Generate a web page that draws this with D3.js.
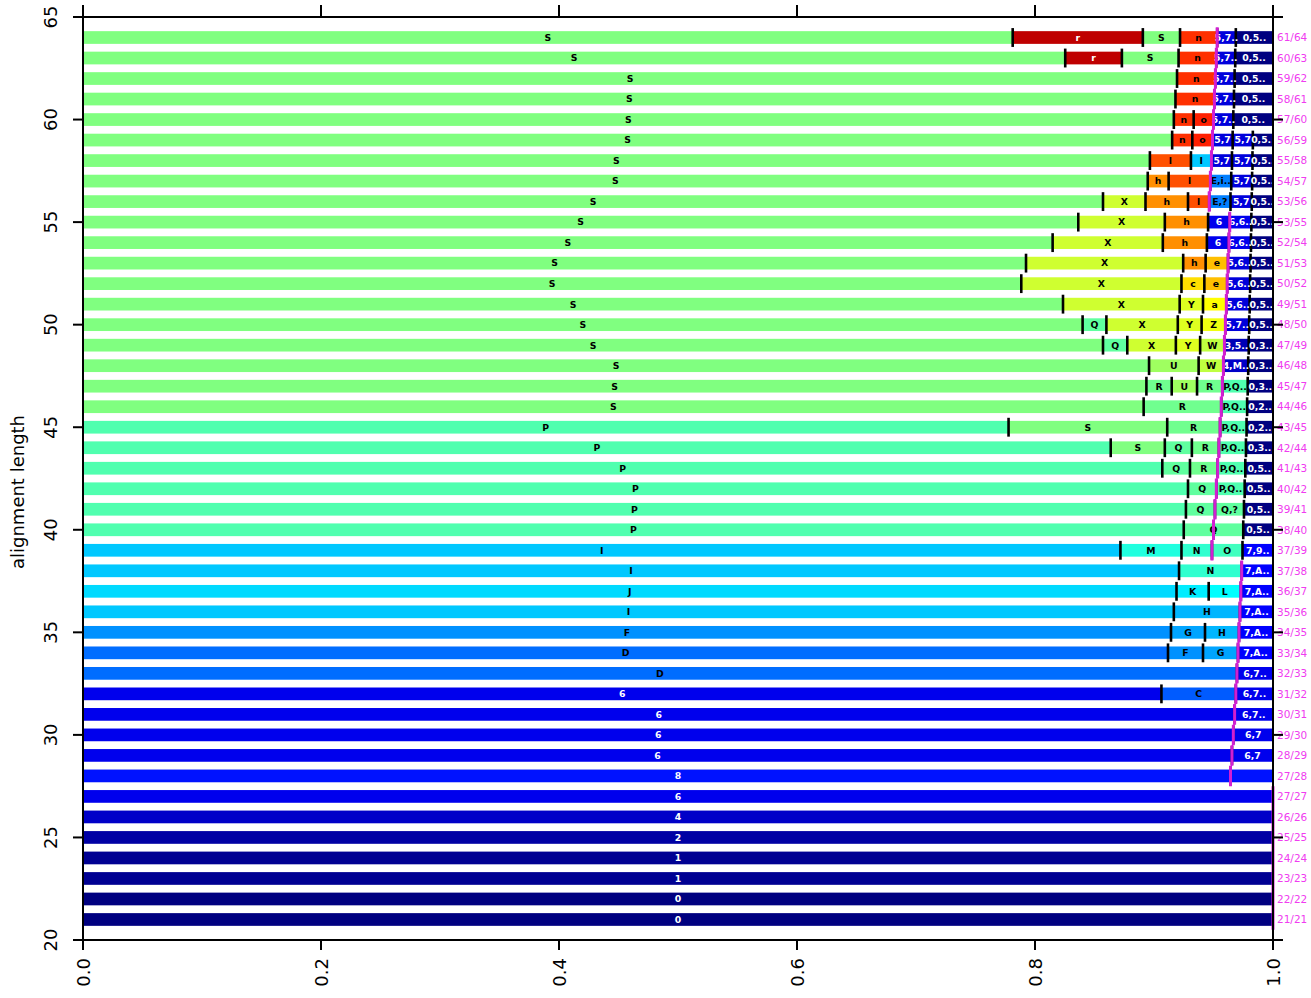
<!DOCTYPE html>
<html><head><meta charset="utf-8">
<script src="https://cdn.jsdelivr.net/npm/d3@7"></script>
<style>body{margin:0;background:#fff}</style>
</head><body>
<svg id="c" width="1311" height="998"></svg>
<script>
const lengths = [64,63,62,61,60,59,58,57,56,55,54,53,52,51,50,49,48,47,46,45,44,43,42,41,40,39,38,37,36,35,34,33,32,31,30,29,28,27,26,25,24,23,22,21];
const kValues = [61,60,59,58,57,56,55,54,53,53,52,51,50,49,48,47,46,45,44,43,42,41,40,39,38,37,37,36,35,34,33,32,31,30,29,28,27,27,26,25,24,23,22,21];
const segLabels = [
 ["S","r","S","n","5,7..","0,5.."],
 ["S","r","S","n","5,7..","0,5.."],
 ["S","n","5,7..","0,5.."],
 ["S","n","5,7..","0,5.."],
 ["S","n","o","5,7..","0,5.."],
 ["S","n","o","5,7","5,7","0,5.."],
 ["S","l","I","5,7","5,7","0,5.."],
 ["S","h","l","E,i..","5,7","0,5.."],
 ["S","X","h","l","E,?","5,7","0,5.."],
 ["S","X","h","6","6,6..","0,5.."],
 ["S","X","h","6","6,6..","0,5.."],
 ["S","X","h","e","5,6..","0,5.."],
 ["S","X","c","e","5,6..","0,5.."],
 ["S","X","Y","a","5,6..","0,5.."],
 ["S","Q","X","Y","Z","5,7..","0,5.."],
 ["S","Q","X","Y","W","3,5..","0,3.."],
 ["S","U","W","4,M..","0,3.."],
 ["S","R","U","R","P,Q..","0,3.."],
 ["S","R","P,Q..","0,2.."],
 ["P","S","R","P,Q..","0,2.."],
 ["P","S","Q","R","P,Q..","0,3.."],
 ["P","Q","R","P,Q..","0,5.."],
 ["P","Q","P,Q..","0,5.."],
 ["P","Q","Q,?","0,5.."],
 ["P","Q","0,5.."],
 ["I","M","N","O","7,9.."],
 ["I","N","7,A.."],
 ["J","K","L","7,A.."],
 ["I","H","7,A.."],
 ["F","G","H","7,A.."],
 ["D","F","G","7,A.."],
 ["D","6,7.."],
 ["6","C","6,7.."],
 ["6","6,7.."],
 ["6","6,7"],
 ["6","6,7"],
 ["8"],["6"],["4"],["2"],["1"],["1"],["0"],["0"]
];
const segCounts = [
 [50,7,2,2,1,2],
 [52,3,3,2,1,2],
 [57,2,1,2],
 [56,2,1,2],
 [55,1,1,1,2],
 [54,1,1,1,1,1],
 [52,2,1,1,1,1],
 [51,1,2,1,1,1],
 [48,2,2,1,1,1,1],
 [46,4,2,1,1,1],
 [44,5,2,1,1,1],
 [42,7,1,1,1,1],
 [41,7,1,1,1,1],
 [42,5,1,1,1,1],
 [42,1,3,1,1,1,1],
 [42,1,2,1,1,1,1],
 [43,2,1,1,1],
 [42,1,1,1,1,1],
 [41,3,1,1],
 [35,6,2,1,1],
 [38,2,1,1,1,1],
 [39,1,1,1,1],
 [39,1,1,1],
 [38,1,1,1],
 [37,2,1],
 [34,2,1,1,1],
 [35,2,1],
 [34,1,1,1],
 [33,2,1],
 [32,1,1,1],
 [31,1,1,1],
 [32,1],
 [29,2,1],
 [30,1],
 [29,1],
 [28,1],
 [28],[27],[26],[25],[24],[23],[22],[21]
];
const xTicks = [0,0.2,0.4,0.6,0.8,1.0];
const yTicks = [20,25,30,35,40,45,50,55,60,65];
// colour of a segment, keyed by the first character of its label
const symbolKeys = ["0","1","2","3","4","5","6","7","8","C","D","E","F","G","H","I","J","K","L","M","N","O","P","Q","R","S","U","W","X","Y","Z","a","c","e","h","l","n","o","r"];
const symbolColors = ["#000080","#000092","#0000A4","#0000B6","#0000C8","#0000DB","#0000ED","#0000FF","#0012FF","#005BFF","#006DFF","#007FFF","#0091FF","#00A4FF","#00B6FF","#00C8FF","#00DAFF","#00EDFF","#00FFFF","#20FFDF","#30FFCF","#40FFBF","#50FFAF","#60FF9F","#70FF8F","#80FF80","#9FFF60","#BFFF40","#CFFF30","#DFFF20","#EFFF10","#FFFF00","#FFDF00","#FFBF00","#FF8F00","#FF5000","#FF3000","#FF2000","#BF0000"];
const whiteText = "012345678r";

const svg = d3.select("#c");
const x = d3.scaleLinear().domain([0,1]).range([83,1273]);
const y = d3.scaleLinear().domain([20,65]).range([940,17]);
const color = d3.scaleOrdinal().domain(symbolKeys).range(symbolColors);
const colorOf = lab => color(lab[0]);
const textColorOf = lab => whiteText.includes(lab[0]) ? "#fff" : "#000";

const rows = lengths.map((n,ri) => {
  let cum = 0;
  const segs = segCounts[ri].map((c,si) => { const s = {label: segLabels[ri][si], a: cum/n, b: (cum+c)/n}; cum += c; return s; });
  return {n, k: kValues[ri], segs};
});

const barH = y(0) - y(0.62);
const g = svg.append("g");
rows.forEach(r => {
  const row = g.append("g");
  row.selectAll("rect").data(r.segs).join("rect")
    .attr("x", d => x(d.a)).attr("width", d => x(d.b) - x(d.a))
    .attr("y", y(r.n + 0.31)).attr("height", barH)
    .attr("fill", d => colorOf(d.label));
  row.selectAll("line").data(r.segs.slice(1)).join("line")
    .attr("x1", d => x(d.a)).attr("x2", d => x(d.a))
    .attr("y1", y(r.n + 0.46)).attr("y2", y(r.n - 0.46))
    .attr("stroke", "#000").attr("stroke-width", 2.6);
  row.selectAll("text").data(r.segs).join("text")
    .attr("x", d => x((d.a + d.b) / 2)).attr("y", y(r.n))
    .attr("dy", "0.36em")
    .attr("text-anchor", "middle")
    .attr("font-family", "DejaVu Sans").attr("font-weight", "bold").attr("font-size", 9.3)
    .attr("fill", d => textColorOf(d.label))
    .text(d => d.label);
});

// magenta k/n marker: one vertical piece per row
svg.append("path")
  .attr("d", rows.map(r => `M${x(r.k / r.n)},${y(r.n + 0.5)}V${y(r.n - 0.5)}`).join(""))
  .attr("fill", "none").attr("stroke", "#D21ED2").attr("stroke-width", 3);

svg.append("g").selectAll("text").data(rows).join("text")
  .attr("x", 1277).attr("y", r => y(r.n)).attr("dy", "0.36em")
  .attr("font-family", "DejaVu Sans").attr("font-size", 10.5)
  .attr("fill", "#F03CF0")
  .text(r => r.k + "/" + r.n);

const ax = svg.append("g").attr("stroke", "#000").attr("stroke-width", 2);
ax.append("rect").attr("x", x(0)).attr("y", y(65)).attr("width", x(1) - x(0)).attr("height", y(20) - y(65)).attr("fill", "none");
xTicks.forEach(t => {
  ax.append("line").attr("x1", x(t)).attr("x2", x(t)).attr("y1", y(20)).attr("y2", y(20) + 10);
  ax.append("line").attr("x1", x(t)).attr("x2", x(t)).attr("y1", y(65)).attr("y2", y(65) - 12);
});
yTicks.forEach(t => {
  ax.append("line").attr("x1", x(0)).attr("x2", x(0) - 10).attr("y1", y(t)).attr("y2", y(t));
  ax.append("line").attr("x1", x(1)).attr("x2", x(1) + 10).attr("y1", y(t)).attr("y2", y(t));
});
svg.append("g").selectAll("text").data(xTicks).join("text")
  .attr("transform", t => `translate(${x(t) + 7},958) rotate(-90)`)
  .attr("text-anchor", "end")
  .attr("font-family", "DejaVu Sans").attr("font-size", 18)
  .text(t => t.toFixed(1));
svg.append("g").selectAll("text").data(yTicks).join("text")
  .attr("transform", t => `translate(57,${y(t)}) rotate(-90)`)
  .attr("text-anchor", "middle")
  .attr("font-family", "DejaVu Sans").attr("font-size", 18)
  .text(t => t);
svg.append("text")
  .attr("transform", `translate(24,492) rotate(-90)`)
  .attr("text-anchor", "middle")
  .attr("font-family", "DejaVu Sans").attr("font-size", 18)
  .text("alignment length");
</script>
</body></html>
